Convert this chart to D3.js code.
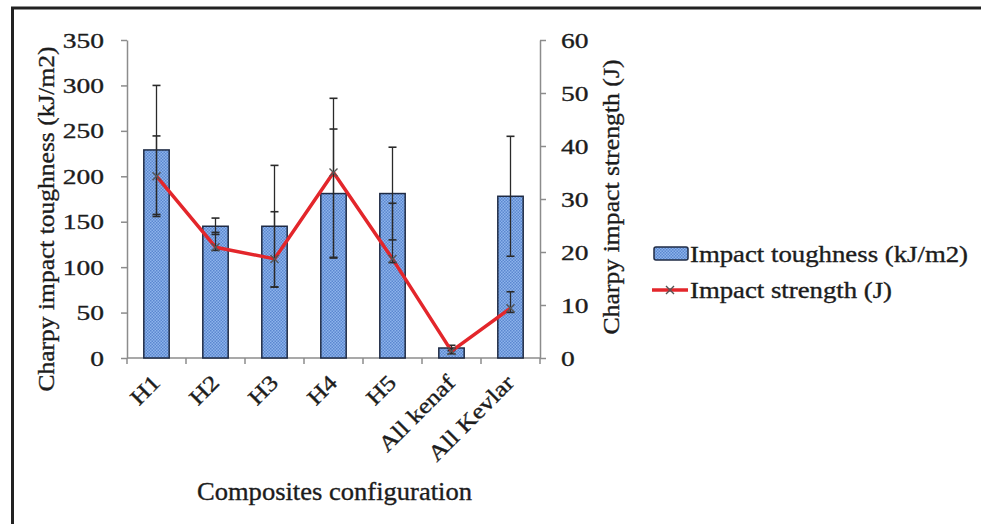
<!DOCTYPE html>
<html><head><meta charset="utf-8">
<script src="https://cdn.jsdelivr.net/npm/d3@7"></script>
<style>body{margin:0;background:#fff} text{stroke:#1c1c1c;stroke-width:0.35px}</style>
</head><body><svg id="c" width="981" height="524"></svg>
<script>
const categories = ["H1","H2","H3","H4","H5","All kenaf","All Kevlar"];
const toughness = [229, 145, 145, 181, 181, 11, 178];
const toughnessErr = [71, 9, 67, 71, 51, 3, 66];
const strength = [34.3, 20.9, 18.7, 35.0, 18.7, 1.3, 9.4];
const strengthErrUp = [7.6, 2.8, 8.9, 14.0, 10.5, 0.5, 3.1];
const strengthErrDown = [7.6, 0.6, 5.3, 16.0, 0.7, 0.5, 0.8];
const leftTicks = [0, 50, 100, 150, 200, 250, 300, 350];
const rightTicks = [0, 10, 20, 30, 40, 50, 60];

const svg = d3.select("#c");
const font = "'Liberation Serif','Times New Roman',Times,serif";
const txt = "#1c1c1c";
const axisColor = "#8c8c8c";
const barStroke = "#1f2b44";
const red = "#e3262b";

const defs = svg.append("defs");
const pat = defs.append("pattern").attr("id","dots").attr("width",3).attr("height",3).attr("patternUnits","userSpaceOnUse");
pat.append("rect").attr("width",3).attr("height",3).attr("fill","#8db4ec");
pat.append("rect").attr("width",1.5).attr("height",1.5).attr("fill","#5b87cf");
pat.append("rect").attr("x",1.5).attr("y",1.5).attr("width",1.5).attr("height",1.5).attr("fill","#5b87cf");

// frame
svg.append("path").attr("d","M12.5,524V8H981").attr("fill","none").attr("stroke","#222").attr("stroke-width",3);

const x = d3.scaleBand().domain(categories).range([127,540]).paddingInner(0.57).paddingOuter(0.285);
const yL = d3.scaleLinear().domain([0,350]).range([358,40]);
const yR = d3.scaleLinear().domain([0,60]).range([358,40]);
const bw = x.bandwidth();
const cx = c => x(c) + bw/2;

// left axis
const gL = svg.append("g").attr("transform","translate(127,0)")
  .call(d3.axisLeft(yL).tickValues(leftTicks).tickSize(6).tickSizeOuter(0));
// right axis
const gR = svg.append("g").attr("transform","translate(540,0)")
  .call(d3.axisRight(yR).tickValues(rightTicks).tickSize(6).tickSizeOuter(0));
[gL,gR].forEach(g=>{
  g.select(".domain").attr("stroke",axisColor).attr("stroke-width",1.5);
  g.selectAll(".tick line").attr("stroke",axisColor).attr("stroke-width",1.5);
  g.selectAll(".tick text").attr("font-family",font).attr("font-size",22).attr("fill",txt);
});
gL.selectAll(".tick text").attr("transform","scale(1.25,1)").attr("x",-23/1.25);
gR.selectAll(".tick text").attr("transform","scale(1.25,1)").attr("x",21/1.25);

// x axis
const [x0,x1] = x.range();
svg.append("line").attr("x1",x0).attr("x2",x1).attr("y1",yL(0)).attr("y2",yL(0)).attr("stroke",axisColor).attr("stroke-width",1.5);
const bounds = categories.map(c => x(c) - x.step()*x.paddingInner()/2);
bounds.push(x(categories[categories.length-1]) + bw + x.step()*x.paddingInner()/2);
svg.selectAll(".xt").data(bounds).enter().append("line")
  .attr("x1",d=>d).attr("x2",d=>d).attr("y1",yL(0)).attr("y2",yL(0)+6)
  .attr("stroke",axisColor).attr("stroke-width",1.5);
svg.selectAll(".xl").data(categories).enter().append("g")
  .attr("transform",c=>`translate(${cx(c)+5},384) rotate(-45)`)
  .append("text").attr("text-anchor","end").attr("transform","scale(1.19,1)")
  .attr("font-family",font).attr("font-size",22).attr("fill",txt).text(c=>c);

// bars
svg.selectAll(".bar").data(categories).enter().append("rect")
  .attr("x",c=>x(c)).attr("y",(c,i)=>yL(toughness[i]))
  .attr("width",bw).attr("height",(c,i)=>yL(0)-yL(toughness[i]))
  .attr("fill","url(#dots)").attr("stroke",barStroke).attr("stroke-width",1.5);

function errBar(g, xc, yTop, yBot, color){
  g.append("line").attr("x1",xc).attr("x2",xc).attr("y1",yTop).attr("y2",yBot).attr("stroke",color).attr("stroke-width",1.3);
  [yTop,yBot].forEach(yy=>g.append("line").attr("x1",xc-4).attr("x2",xc+4).attr("y1",yy).attr("y2",yy).attr("stroke",color).attr("stroke-width",1.6));
}
const gE = svg.append("g");
categories.forEach((c,i)=>{
  errBar(gE, cx(c), yL(toughness[i]+toughnessErr[i]), yL(toughness[i]-toughnessErr[i]), "#2a2a2a");
});

// line
const line = d3.line().x((d,i)=>cx(categories[i])).y(d=>yR(d));
svg.append("path").datum(strength).attr("d",line).attr("fill","none").attr("stroke",red).attr("stroke-width",3.5).attr("stroke-linejoin","round");

const gE2 = svg.append("g");
categories.forEach((c,i)=>{
  errBar(gE2, cx(c), yR(strength[i]+strengthErrUp[i]), yR(strength[i]-strengthErrDown[i]), "#2a2a2a");
});

function xMark(g, px, py, s){
  g.append("path").attr("d",`M${px-s},${py-s}L${px+s},${py+s}M${px-s},${py+s}L${px+s},${py-s}`)
   .attr("stroke","#555").attr("stroke-width",1.4).attr("fill","none");
}
const gM = svg.append("g");
strength.forEach((s,i)=>xMark(gM, cx(categories[i]), yR(s), 4));

// titles
svg.append("text").attr("transform","translate(54,219) rotate(-90)").attr("text-anchor","middle")
  .attr("font-family",font).attr("font-size",24).attr("fill",txt)
  .attr("textLength",345).attr("lengthAdjust","spacingAndGlyphs").text("Charpy impact toughness (kJ/m2)");
svg.append("text").attr("transform","translate(619,197) rotate(-90)").attr("text-anchor","middle")
  .attr("font-family",font).attr("font-size",24).attr("fill",txt)
  .attr("textLength",275).attr("lengthAdjust","spacingAndGlyphs").text("Charpy impact strength (J)");
svg.append("text").attr("x",334.5).attr("y",500).attr("text-anchor","middle")
  .attr("font-family",font).attr("font-size",25).attr("fill",txt)
  .attr("textLength",275).attr("lengthAdjust","spacingAndGlyphs").text("Composites configuration");

// legend
const lg = svg.append("g");
lg.append("rect").attr("x",654).attr("y",247).attr("width",34).attr("height",13).attr("rx",2)
  .attr("fill","url(#dots)").attr("stroke",barStroke).attr("stroke-width",1.5);
lg.append("text").attr("x",690).attr("y",262).attr("font-family",font).attr("font-size",23).attr("fill",txt)
  .attr("textLength",278).attr("lengthAdjust","spacingAndGlyphs").text("Impact toughness (kJ/m2)");
lg.append("line").attr("x1",652).attr("x2",688).attr("y1",290).attr("y2",290).attr("stroke",red).attr("stroke-width",3.5);
xMark(lg, 670, 290, 4);
lg.append("text").attr("x",690).attr("y",298).attr("font-family",font).attr("font-size",23).attr("fill",txt)
  .attr("textLength",202).attr("lengthAdjust","spacingAndGlyphs").text("Impact strength (J)");
</script></body></html>
